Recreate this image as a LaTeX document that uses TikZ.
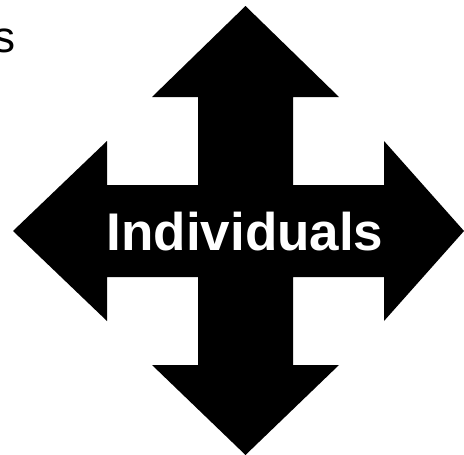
\documentclass[tikz,border=0pt]{standalone}
\usepackage{fontspec}
\setmainfont{Liberation Sans}
\begin{document}
\begin{tikzpicture}[x=1pt,y=-1pt,
  arrowshape/.style={fill=black,draw=none},
  label/.style={inner sep=0pt,outer sep=0pt}]
\useasboundingbox (0,0) rectangle (464,455);
\clip (0,0) rectangle (464,455);
\fill[arrowshape] (245.5,6) -- (339,97) -- (293,97) -- (293,185) -- (384,185) -- (384,141)
  -- (464,231) -- (384,321) -- (384,277) -- (293,277) -- (293,365) -- (339,365)
  -- (245.5,455) -- (152,365) -- (198,365) -- (198,277) -- (107,277) -- (107,321)
  -- (13,231) -- (107,141) -- (107,185) -- (198,185) -- (198,97) -- (152,97) -- cycle;
\node[label,anchor=base,text=white,font=\fontsize{53}{60}\selectfont\bfseries] (ind) at (245,250) {Individuals};
\node[label,anchor=base east,font=\fontsize{44}{50}\selectfont] (s) at (16,52.5) {s};
\end{tikzpicture}
\end{document}
